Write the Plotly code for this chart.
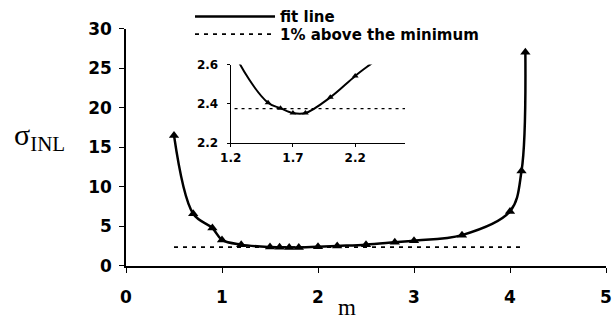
import plotly.graph_objects as go

# data
m = [0.5, 0.7, 0.9, 1.0, 1.2, 1.5, 1.6, 1.7, 1.8, 2.0, 2.2, 2.5, 2.8, 3.0, 3.5, 4.0, 4.12, 4.16]
sigma = [16.5, 6.6, 4.8, 3.3, 2.7, 2.405, 2.378, 2.353, 2.353, 2.433, 2.542, 2.7, 3.0, 3.2, 3.9, 6.9, 12.0, 27.0]
threshold_m = [0.5, 4.15]
threshold_sigma = [2.375, 2.375]

main_xticks = [0, 1, 2, 3, 4, 5]
main_yticks = [0, 5, 10, 15, 20, 25, 30]
inset_xticks = [1.2, 1.7, 2.2]
inset_yticks = [2.2, 2.4, 2.6]

BOLD = "DejaVu Sans"
W, H = 616, 326
ML, MR, MT, MB = 126, 10, 0, 60
PW, PH = W - ML - MR, H - MT - MB


def px(xp):
    return (xp - ML) / PW


def py(yp):
    return (H - MB - yp) / PH


fig = go.Figure()

# main axes
fig.add_trace(go.Scatter(x=m, y=sigma, mode="lines", line=dict(color="black", width=2.5, shape="spline"),
                         name="fit line", xaxis="x", yaxis="y", legend="legend"))
fig.add_trace(go.Scatter(x=threshold_m, y=threshold_sigma, mode="lines",
                         line=dict(color="black", width=1.8, dash="4px,5px"),
                         name="1% above the minimum", xaxis="x", yaxis="y", legend="legend2"))
fig.add_trace(go.Scatter(x=m, y=sigma, mode="markers", marker=dict(symbol="triangle-up", size=9, color="black"),
                         showlegend=False, xaxis="x", yaxis="y"))

# inset
fig.add_trace(go.Scatter(x=m, y=sigma, mode="lines", line=dict(color="black", width=2, shape="spline"),
                         showlegend=False, xaxis="x2", yaxis="y2"))
fig.add_trace(go.Scatter(x=threshold_m, y=threshold_sigma, mode="lines",
                         line=dict(color="black", width=1.2, dash="3px,4px"),
                         showlegend=False, xaxis="x2", yaxis="y2"))
fig.add_trace(go.Scatter(x=m, y=sigma, mode="markers", marker=dict(symbol="triangle-up", size=6, color="black"),
                         showlegend=False, xaxis="x2", yaxis="y2"))

legend_common = dict(xanchor="left", yanchor="middle",
                     bgcolor="rgba(0,0,0,0)", borderwidth=0,
                     font=dict(family=BOLD, size=15, color="black", weight="bold"),
                     itemwidth=80)

fig.update_layout(
    width=W, height=H,
    margin=dict(l=ML, r=MR, t=MT, b=MB),
    paper_bgcolor="white", plot_bgcolor="white",
    font=dict(family=BOLD, color="black"),
    showlegend=True,
    legend=dict(x=px(190), y=py(12), **legend_common),
    legend2=dict(x=px(190), y=py(30), **legend_common),
    xaxis=dict(range=[0, 5], tickvals=main_xticks, showline=True, linecolor="black", linewidth=1.5,
               ticks="outside", ticklen=5, tickcolor="black", showgrid=False, zeroline=False,
               tickfont=dict(family=BOLD, size=17, weight="bold"), ticklabelstandoff=10, domain=[0, 1],
               automargin=False),
    yaxis=dict(range=[0, 30], tickvals=main_yticks, showline=True, linecolor="black", linewidth=1.5,
               ticks="outside", ticklen=5, tickcolor="black", showgrid=False, zeroline=False,
               tickfont=dict(family=BOLD, size=17, weight="bold"), ticklabelstandoff=4,
               domain=[0, py(24)], automargin=False),
    xaxis2=dict(range=[1.2, 2.6], tickvals=inset_xticks, ticktext=["1.2", "1.7", "2.2"], anchor="y2",
                domain=[px(230.7), px(405)], showline=True, linecolor="black", linewidth=1.2,
                ticks="outside", ticklen=3, tickcolor="black", showgrid=False, zeroline=False,
                tickfont=dict(family=BOLD, size=12, weight="bold"), ticklabelstandoff=0, automargin=False),
    yaxis2=dict(range=[2.2, 2.6], tickvals=inset_yticks, ticktext=["2.2", "2.4", "2.6"], anchor="x2",
                domain=[py(140.7), py(60.7)], showline=True, linecolor="black", linewidth=1.2,
                ticks="outside", ticklen=3, tickcolor="black", showgrid=False, zeroline=False,
                tickfont=dict(family=BOLD, size=12, weight="bold"), ticklabelstandoff=6, automargin=False),
    annotations=[
        dict(text="σ<sub>INL</sub>", x=px(12), y=py(135), xref="paper", yref="paper", showarrow=False,
             xanchor="left", yanchor="middle",
             font=dict(family="Liberation Serif", size=30, color="black")),
        dict(text="m", x=px(347), y=py(308), xref="paper", yref="paper", showarrow=False,
             xanchor="center", yanchor="middle",
             font=dict(family="Liberation Serif", size=23, color="black")),
    ],
)

fig.write_html("out.html", config={"displayModeBar": False},
               post_script="document.body.style.margin='0';")
